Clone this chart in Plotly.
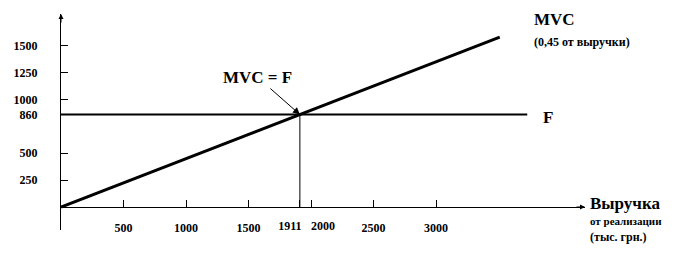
import plotly.graph_objects as go

# Data (thousand UAH)
revenue_mvc = [0, 1911, 3510]
mvc_values = [0, 860, 1580]          # MVC = 0.45 of revenue
revenue_f = [0, 3730]
fixed_costs = [860, 860]             # F
breakeven_revenue = 1911
breakeven_cost = 860

x_ticks = [500, 1000, 1500, 1911, 2000, 2500, 3000]
x_tick_labels = ["500", "1000", "1500", "1911", "2000", "2500", "3000"]
y_ticks = [250, 500, 860, 1000, 1250, 1500]
y_tick_labels = ["250", "500", "860", "1000", "1250", "1500"]

X_MAX = 4192
Y_MIN, Y_MAX = -214, 1795
SERIF = "Liberation Serif"

fig = go.Figure()
fig.add_trace(go.Scatter(x=revenue_mvc, y=mvc_values, mode="lines",
                         line=dict(color="black", width=3), showlegend=False))
fig.add_trace(go.Scatter(x=revenue_f, y=fixed_costs, mode="lines",
                         line=dict(color="black", width=2), showlegend=False))
fig.add_trace(go.Scatter(x=[breakeven_revenue, breakeven_revenue], y=[0, breakeven_cost],
                         mode="lines", line=dict(color="black", width=1), showlegend=False))
# helper (invisible) traces so the overlaid label axes get drawn
for ax_id in ("x2", "x3"):
    fig.add_trace(go.Scatter(x=[None], y=[None], xaxis=ax_id, yaxis="y", mode="lines",
                             showlegend=False, hoverinfo="skip"))

zero_pos = (0 - Y_MIN) / (Y_MAX - Y_MIN)
tick_font = dict(size=12, family=SERIF, weight="bold", color="black")

# main x-axis: all tick marks, labels except the two crowded ones
main_text = [t if v not in (1911, 2000) else "" for v, t in zip(x_ticks, x_tick_labels)]
i1911 = x_ticks.index(1911)
i2000 = x_ticks.index(2000)

common_x = dict(range=[0, X_MAX], showgrid=False, zeroline=False,
                anchor="free", position=zero_pos, tickangle=0,
                tickfont=tick_font, ticklabelstandoff=10)

fig.update_layout(
    width=695, height=255,
    margin=dict(l=61, r=110, t=14, b=25),
    paper_bgcolor="white", plot_bgcolor="white",
    font=dict(family=SERIF, color="black"),
    xaxis=dict(**common_x, showline=True, linecolor="black", linewidth=1,
               ticks="inside", ticklen=7, tickcolor="black", tickwidth=1,
               tickvals=x_ticks, ticktext=main_text),
    xaxis2=dict(**common_x, overlaying="x", showline=False, ticks="",
                tickvals=[x_ticks[i1911]], ticktext=[x_tick_labels[i1911]],
                ticklabelshift=-10),
    xaxis3=dict(**common_x, overlaying="x", showline=False, ticks="",
                tickvals=[x_ticks[i2000]], ticktext=[x_tick_labels[i2000]],
                ticklabelshift=12),
    yaxis=dict(range=[Y_MIN, Y_MAX], showgrid=False, zeroline=False,
               showline=True, linecolor="black", linewidth=1,
               ticks="inside", ticklen=7, tickcolor="black", tickwidth=1,
               tickvals=y_ticks, ticktext=y_tick_labels,
               tickfont=tick_font, ticklabelstandoff=20),
)

# axis arrows
fig.add_annotation(x=X_MAX, y=0, xref="x", yref="y", ax=-10, ay=0, text="",
                   showarrow=True, arrowhead=2, arrowsize=1, arrowwidth=1, arrowcolor="black")
fig.add_annotation(x=0, y=Y_MAX, xref="x", yref="y", ax=0, ay=10, text="",
                   showarrow=True, arrowhead=2, arrowsize=1, arrowwidth=1, arrowcolor="black")

# break-even label
fig.add_annotation(x=breakeven_revenue, y=breakeven_cost, xref="x", yref="y",
                   ax=-42, ay=-37, text="MVC = F",
                   font=dict(size=17, family=SERIF, weight="bold", color="black"),
                   showarrow=True, arrowhead=2, arrowsize=1.4, arrowwidth=1,
                   arrowcolor="black", standoff=0)

# right-side labels (paper coords)
def px_x(p):
    return (p - 61) / (695 - 61 - 110)

def px_y(p):
    return (255 - 25 - p) / (255 - 14 - 25)

labels = [
    ("MVC", 532, 19, 17),
    ("(0,45 от выручки)", 532, 42, 12),
    ("F", 541, 117, 17),
    ("Выручка", 588, 203, 17),
    ("от реализации", 588, 221, 11),
    ("(тыс. грн.)", 588, 237, 12),
]
for txt, lx, ly, sz in labels:
    fig.add_annotation(x=px_x(lx), y=px_y(ly), xref="paper", yref="paper",
                       xanchor="left", yanchor="middle", text=txt, showarrow=False,
                       font=dict(size=sz, family=SERIF, weight="bold", color="black"))

fig.write_html("out.html")
